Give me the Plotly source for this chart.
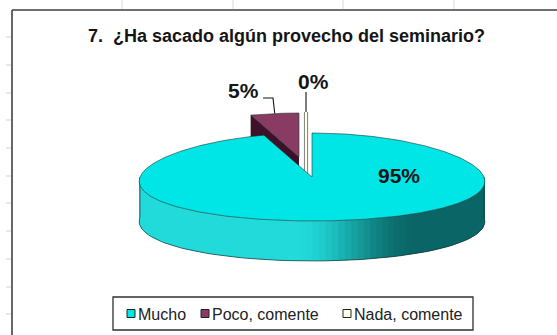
import numpy as np
import plotly.graph_objects as go

# ---- data ----
categories = ["Mucho", "Poco, comente", "Nada, comente"]
percentages = [95, 5, 0]
title_text = "7.\u00a0 ¿Ha sacado algún provecho del seminario?"

# ---- style / layout ----
W, H = 557, 335
FONT = "Liberation Sans, Arial, sans-serif"
CX, CY, RX, RY, DEPTH, PERSP = 312, 177, 172, 44, 40, 0.10
TOP_COLORS = ["#00E5E5", "#8A3B63", "#FFFFE6"]
FACE_COLORS = ["#0B6969", "#3E1128", "#FFFFE6"]
EXPLODE = [(0, 0), (-13, -20), (-6, -21)]
EDGE = "#1f3535"
LABEL_POS = [(399, 175), (243, 90), (313, 81)]
LEADER_START = [None, [(263, 98), (273, 98)], [(306, 92)]]
LEGEND_BOX = (113, 297, 473, 330)
LEGEND_X = [127, 201, 343]
LEGEND_SWATCH = ["#00E5E5", "#8A3B63", "#FFFFE6"]


def proj(t_deg, dx=0.0, dy=0.0, down=0.0):
    t = np.radians(t_deg)
    x = CX + dx + RX * np.sin(t) * (1 - PERSP * np.cos(t))
    y = CY + dy - RY * np.cos(t) + down
    return x, y


def hexrgb(h):
    h = h.lstrip("#")
    return np.array([int(h[i:i + 2], 16) for i in (0, 2, 4)], float)


def wall_color(u):
    light, dark = hexrgb("#22DADA"), hexrgb("#0A6666")
    s = np.clip((u - 0.45) / 0.35, 0, 1)
    s = s * s * (3 - 2 * s)
    c = light * (1 - s) + dark * s
    return "rgb(%d,%d,%d)" % tuple(c.round())


fig = go.Figure()


def poly(xs, ys, fill, line_color=None, lw=0.0):
    fig.add_trace(go.Scatter(
        x=list(xs), y=list(ys), mode="lines", fill="toself", fillcolor=fill,
        line=dict(color=line_color or fill, width=lw),
        hoverinfo="skip", showlegend=False))


def line(xs, ys, color, lw):
    fig.add_trace(go.Scatter(
        x=list(xs), y=list(ys), mode="lines", line=dict(color=color, width=lw),
        hoverinfo="skip", showlegend=False))


total = float(sum(percentages))
bounds = np.concatenate([[0.0], np.cumsum(percentages)]) / total * 360.0
mids = (bounds[:-1] + bounds[1:]) / 2

# back slices first, front slices last
order = sorted(range(len(percentages)), key=lambda i: -np.cos(np.radians(mids[i])))

for i in order:
    a0, a1 = bounds[i], bounds[i + 1]
    dx, dy = EXPLODE[i]
    ax, ay = CX + dx, CY + dy

    if a1 - a0 < 1e-9:
        # zero-size slice: only its edge is seen
        tx, ty = proj(a0, dx, dy)
        line([tx, ax], [ty, ay + DEPTH], "#8a8a8a", 4.2)
        line([tx, ax], [ty, ay + DEPTH], FACE_COLORS[i], 2)
        continue

    ts = np.linspace(a0, a1, max(8, int((a1 - a0) * 2)))

    # outer wall on the front half, shaded strip by strip (strips overlap to hide seams)
    lo, hi = max(a0, 90.0), min(a1, 270.0)
    if hi > lo:
        ws = np.linspace(lo, hi, 91)
        poly(*[np.concatenate([proj(ws, dx, dy)[j], proj(ws[::-1], dx, dy, DEPTH)[j]])
               for j in (0, 1)], wall_color(0.0))
        for k in range(len(ws) - 1):
            seg = np.linspace(ws[k], ws[min(k + 2, len(ws) - 1)], 4)
            sx, sy = proj(seg, dx, dy)
            bx, by = proj(seg[::-1], dx, dy, DEPTH)
            xm = proj((ws[k] + ws[k + 1]) / 2, dx, dy)[0]
            u = (xm - (CX - RX)) / (2 * RX)
            poly(np.concatenate([sx, bx]), np.concatenate([sy, by]), wall_color(u))
        bx, by = proj(ws, dx, dy, DEPTH)
        line(bx, by, EDGE, 0.7)
        for t in (lo, hi):
            px, py = proj(t, dx, dy)
            line([px, px], [py, py + DEPTH], EDGE, 0.7)

    # radial cut face that turns toward the viewer
    if np.cos(np.radians(a0)) > 0 and i != 0:
        ox, oy = proj(a0, dx, dy)
        poly([ax, ox, ox, ax], [ay, oy, oy + DEPTH, ay + DEPTH], FACE_COLORS[i], EDGE, 0.5)

    # top face
    xs, ys = proj(ts, dx, dy)
    poly(np.concatenate([[ax], xs, [ax]]), np.concatenate([[ay], ys, [ay]]),
         TOP_COLORS[i], EDGE, 0.6)

# percentage labels and leader lines
annotations = []
for i, p in enumerate(percentages):
    lx, ly = LABEL_POS[i]
    annotations.append(dict(
        x=lx, y=ly, xref="x", yref="y", text="%d%%" % p, showarrow=False,
        font=dict(family=FONT, size=21, color="#151515", weight="bold")))
    if LEADER_START[i]:
        dx, dy = EXPLODE[i]
        ex, ey = proj(mids[i], dx, dy)
        pts = LEADER_START[i] + [(float(ex), float(ey))]
        line([q[0] for q in pts], [q[1] for q in pts], "#111111", 1.1)

annotations.append(dict(
    x=286, y=36, xref="x", yref="y", text=title_text, showarrow=False,
    font=dict(family=FONT, size=18, color="#151515", weight="bold")))

# legend drawn inside a boxed frame
x0, y0, x1, y1 = LEGEND_BOX
ymid = (y0 + y1) / 2
shapes = [dict(type="rect", x0=x0, y0=y0, x1=x1, y1=y1, xref="x", yref="y",
               line=dict(color="#303030", width=1.3), fillcolor="white", layer="below")]
for k, name in enumerate(categories):
    fig.add_trace(go.Scatter(
        x=[LEGEND_X[k] + 4], y=[ymid], mode="markers",
        marker=dict(symbol="square", size=8, color=LEGEND_SWATCH[k],
                    line=dict(color="#222222", width=1)),
        hoverinfo="skip", showlegend=False))
    annotations.append(dict(
        x=LEGEND_X[k] + 9, y=ymid + 0.5, xref="x", yref="y", text=name, showarrow=False,
        xanchor="left", font=dict(family=FONT, size=16, color="#222222")))

# chart frame and surrounding sheet grid
shapes += [
    dict(type="line", x0=12, y0=10, x1=W, y1=10, xref="x", yref="y",
         line=dict(color="#404040", width=1.6)),
    dict(type="line", x0=12, y0=10, x1=12, y1=H, xref="x", yref="y",
         line=dict(color="#404040", width=1.6)),
]
for gx in (122, 233, 343, 454):
    shapes.append(dict(type="line", x0=gx, y0=0, x1=gx, y1=9, xref="x", yref="y",
                       line=dict(color="#d9d9d9", width=1)))
for gy in (37, 65, 93, 120, 148, 176, 203, 231, 259, 287, 314):
    shapes.append(dict(type="line", x0=6, y0=gy, x1=11, y1=gy, xref="x", yref="y",
                       line=dict(color="#d0d0d0", width=1)))

fig.update_layout(
    width=W, height=H, margin=dict(l=0, r=0, t=0, b=0),
    paper_bgcolor="white", plot_bgcolor="white",
    xaxis=dict(range=[0, W], visible=False, fixedrange=True),
    yaxis=dict(range=[H, 0], visible=False, fixedrange=True),
    annotations=annotations, shapes=shapes, showlegend=False,
)

fig.write_html("out.html")
